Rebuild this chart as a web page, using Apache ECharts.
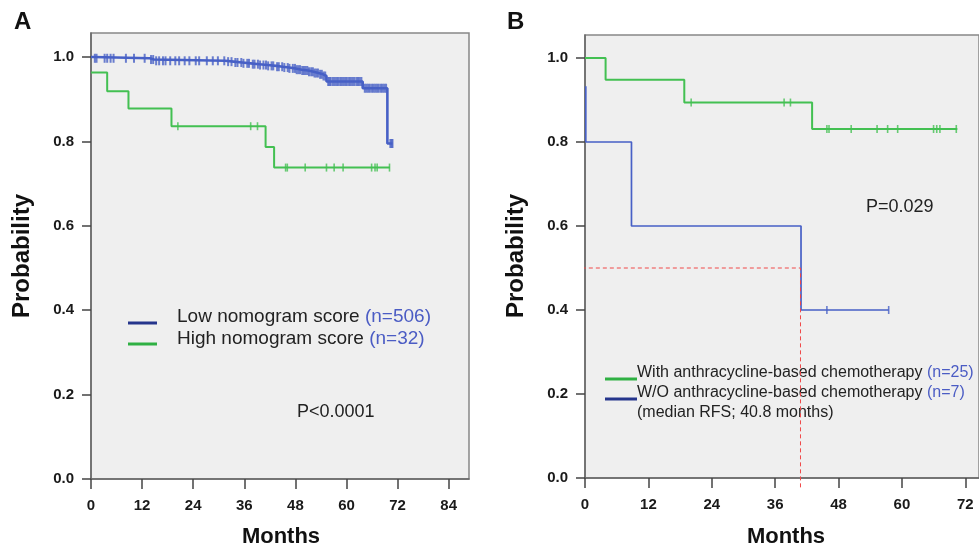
<!DOCTYPE html>
<html>
<head>
<meta charset="utf-8">
<script src="https://cdn.jsdelivr.net/npm/echarts@6.0.0/dist/echarts.min.js"></script>
<style>
  html, body { margin: 0; padding: 0; background: #fff; }
  #chart { width: 979px; height: 551px; }
</style>
</head>
<body>
<div id="chart"></div>
<script>
// ---- data ----
var monthTicksA = [0, 12, 24, 36, 48, 60, 72, 84];
var monthTicksB = [0, 12, 24, 36, 48, 60, 72];
var probTicks = [0, 0.2, 0.4, 0.6, 0.8, 1.0];

// Panel A, low nomogram score: step times / survival
var lowTimes = [0, 0.6, 13.8, 14.8, 31.5, 33.5, 35.5, 37.5, 39.5, 41.5, 43.5, 45, 46.5, 48, 49.5, 51, 52.3, 53.4, 54.5, 55.3, 63.8, 69.6, 70.8];
var lowSurv  = [1.0, 0.997, 0.994, 0.991, 0.989, 0.987, 0.985, 0.983, 0.981, 0.979, 0.977, 0.975, 0.973, 0.970, 0.968, 0.965, 0.962, 0.959, 0.955, 0.942, 0.926, 0.795, 0.795];
var lowCensor = [0.9, 1.3, 3.2, 3.8, 4.6, 5.3, 8.2, 10.1, 12.6, 14.1, 14.6, 15.3, 16.0, 16.9, 17.5, 18.6, 19.8, 20.7, 22.0, 23.1, 24.6, 25.4, 27.2, 28.6, 29.8,
  31.3, 32.2, 33.0, 33.9, 34.4, 35.3, 35.8, 36.7, 37.1, 38.0, 38.4, 39.2, 39.7, 40.5, 41.1, 41.6, 42.4, 42.8, 43.7, 44.1, 44.9, 45.4, 46.2, 46.6,
  47.4, 47.9, 48.3, 48.7, 49.1, 49.6, 50.0, 50.4, 50.8, 51.2, 51.7, 52.1, 52.5, 52.9, 53.3, 53.8, 54.2, 54.6, 55.0, 55.7, 56.0, 56.3, 56.8, 57.2,
  57.6, 58.0, 58.5, 58.9, 59.3, 59.7, 60.1, 60.6, 61.0, 61.4, 61.8, 62.3, 62.7, 63.1, 63.5, 64.3, 64.7, 65.1, 65.5, 66.0, 66.4, 66.8, 67.2, 67.6,
  68.1, 68.5, 68.9, 69.3, 70.3, 70.6, 70.8];

// Panel A, high nomogram score
var highTimes = [0, 3.8, 8.8, 18.9, 41.0, 43.0, 70.2];
var highSurv  = [0.963, 0.919, 0.878, 0.836, 0.787, 0.738, 0.738];
var highCensor = [20.4, 37.5, 39.1, 45.7, 46.1, 50.3, 55.3, 57.1, 59.2, 65.9, 66.7, 67.2, 70.1];

// Panel B, with anthracycline-based chemotherapy
var withTimes = [0, 3.9, 18.8, 43.0, 70.5];
var withSurv  = [1.0, 0.948, 0.894, 0.831, 0.831];
var withCensor = [20.1, 37.7, 38.9, 45.8, 46.2, 50.4, 55.3, 57.3, 59.2, 66.0, 66.6, 67.2, 70.3];

// Panel B, without anthracycline-based chemotherapy
var woTimes = [0.15, 0.15, 8.8, 40.9, 57.5];
var woSurv  = [0.933, 0.8, 0.6, 0.4, 0.4];
var woCensor = [45.8, 57.5];

var medianRFS = 40.8;

// ---- helpers ----
function pairs(ts, ss) {
    var out = [];
    for (var i = 0; i < ts.length; i++) out.push([ts[i], ss[i]]);
    return out;
}
function survAt(ts, ss, t) {
    var v = ss[0];
    for (var i = 0; i < ts.length; i++) {
        if (ts[i] <= t) v = ss[i];
    }
    return v;
}
function censorPts(cs, ts, ss) {
    return cs.map(function (t) { return [t, survAt(ts, ss, t)]; });
}

var curveBlue = '#4760c6';
var curveGreen = '#43c052';
var legendBlue = '#25358c';
var legendGreen = '#2fb043';
var nBlue = '#4b5cc4';
var font = 'Liberation Sans, Arial, sans-serif';

function xAxisCfg(grid, max, ticks) {
    return {
        type: 'value', gridIndex: grid, min: 0, max: max,
        axisLine: { show: true, lineStyle: { color: '#666', width: 1.5 } },
        axisTick: { show: true, length: 10, customValues: ticks, lineStyle: { color: '#444', width: 1.5 } },
        axisLabel: { customValues: ticks, margin: 19, color: '#1a1a1a', fontSize: 15, fontWeight: 'bold', fontFamily: font },
        splitLine: { show: false }
    };
}
function yAxisCfg(grid, max) {
    return {
        type: 'value', gridIndex: grid, min: 0, max: max,
        axisLine: { show: true, lineStyle: { color: '#666', width: 1.5 } },
        axisTick: { show: true, length: 9, customValues: probTicks, lineStyle: { color: '#444', width: 1.5 } },
        axisLabel: {
            customValues: probTicks, margin: 17, color: '#1a1a1a', fontSize: 15, fontWeight: 'bold', fontFamily: font,
            formatter: function (v) { return v.toFixed(1); }
        },
        splitLine: { show: false }
    };
}
function curve(name, xi, data, color, w) {
    return {
        name: name, type: 'line', xAxisIndex: xi, yAxisIndex: xi, step: 'end',
        data: data, symbol: 'none', lineStyle: { color: color, width: w }, z: 3
    };
}
function marks(xi, data, color, size) {
    return {
        type: 'scatter', xAxisIndex: xi, yAxisIndex: xi, data: data,
        symbol: 'rect', symbolSize: size, itemStyle: { color: color }, z: 4, silent: true
    };
}

var chart = echarts.init(document.getElementById('chart'), null, { renderer: 'canvas' });
chart.setOption({
    backgroundColor: '#fff',
    animation: false,
    grid: [
        { left: 91, top: 33, width: 378, height: 446, show: true, backgroundColor: '#efefef', borderColor: '#888', borderWidth: 1.5 },
        { left: 585, top: 35, width: 396, height: 443, show: true, backgroundColor: '#efefef', borderColor: '#888', borderWidth: 1.5 }
    ],
    xAxis: [xAxisCfg(0, 88.77, monthTicksA), xAxisCfg(1, 74.6, monthTicksB)],
    yAxis: [yAxisCfg(0, 1.0569), yAxisCfg(1, 1.0548)],
    series: [
        curve('Low nomogram score', 0, pairs(lowTimes, lowSurv), curveBlue, 2.6),
        marks(0, censorPts(lowCensor, lowTimes, lowSurv), curveBlue, [2, 9]),
        curve('High nomogram score', 0, pairs(highTimes, highSurv), curveGreen, 2),
        marks(0, censorPts(highCensor, highTimes, highSurv), curveGreen, [1.6, 8]),
        curve('With anthracycline-based chemotherapy', 1, pairs(withTimes, withSurv), curveGreen, 2),
        marks(1, censorPts(withCensor, withTimes, withSurv), curveGreen, [1.6, 8]),
        curve('W/O anthracycline-based chemotherapy', 1, pairs(woTimes, woSurv), curveBlue, 1.7),
        marks(1, censorPts(woCensor, woTimes, woSurv), curveBlue, [1.6, 8]),
        {
            type: 'line', xAxisIndex: 1, yAxisIndex: 1, clip: false, symbol: 'none', z: 5,
            data: [[-0.6, 0.5], [medianRFS, 0.5], [medianRFS, -0.028]],
            lineStyle: { color: '#f04848', width: 1, type: [4, 3] }
        }
    ],
    graphic: [
        { type: 'text', left: 14, top: 10, style: { text: 'A', font: 'bold 24px ' + font, fill: '#111' } },
        { type: 'text', left: 507, top: 10, style: { text: 'B', font: 'bold 24px ' + font, fill: '#111' } },
        { type: 'text', x: 22, y: 256, rotation: Math.PI / 2, style: { text: 'Probability', font: 'bold 24px ' + font, fill: '#111', align: 'center', verticalAlign: 'middle' } },
        { type: 'text', x: 516, y: 256, rotation: Math.PI / 2, style: { text: 'Probability', font: 'bold 24px ' + font, fill: '#111', align: 'center', verticalAlign: 'middle' } },
        { type: 'text', x: 281, y: 537, style: { text: 'Months', font: 'bold 22px ' + font, fill: '#111', align: 'center', verticalAlign: 'middle' } },
        { type: 'text', x: 786, y: 537, style: { text: 'Months', font: 'bold 22px ' + font, fill: '#111', align: 'center', verticalAlign: 'middle' } },
        // legend A
        { type: 'line', shape: { x1: 128, y1: 323, x2: 157, y2: 323 }, style: { stroke: legendBlue, lineWidth: 3 } },
        { type: 'line', shape: { x1: 128, y1: 344, x2: 157, y2: 344 }, style: { stroke: legendGreen, lineWidth: 3 } },
        {
            type: 'text', x: 177, y: 317, style: {
                text: 'Low nomogram score {n|(n=506)}', font: '19px ' + font, fill: '#222', verticalAlign: 'middle',
                rich: { n: { fill: nBlue, font: '19px ' + font } }
            }
        },
        {
            type: 'text', x: 177, y: 339, style: {
                text: 'High nomogram score {n|(n=32)}', font: '19px ' + font, fill: '#222', verticalAlign: 'middle',
                rich: { n: { fill: nBlue, font: '19px ' + font } }
            }
        },
        { type: 'text', x: 297, y: 412, style: { text: 'P<0.0001', font: '18px ' + font, fill: '#222', verticalAlign: 'middle' } },
        // legend B
        { type: 'line', shape: { x1: 605, y1: 379, x2: 637, y2: 379 }, style: { stroke: legendGreen, lineWidth: 3 } },
        { type: 'line', shape: { x1: 605, y1: 399, x2: 637, y2: 399 }, style: { stroke: legendBlue, lineWidth: 3 } },
        {
            type: 'text', x: 637, y: 373, style: {
                text: 'With anthracycline-based chemotherapy {n|(n=25)}', font: '16px ' + font, fill: '#222', verticalAlign: 'middle',
                rich: { n: { fill: nBlue, font: '16px ' + font } }
            }
        },
        {
            type: 'text', x: 637, y: 393, style: {
                text: 'W/O anthracycline-based chemotherapy {n|(n=7)}', font: '16px ' + font, fill: '#222', verticalAlign: 'middle',
                rich: { n: { fill: nBlue, font: '16px ' + font } }
            }
        },
        { type: 'text', x: 637, y: 413, style: { text: '(median RFS; 40.8 months)', font: '16px ' + font, fill: '#222', verticalAlign: 'middle' } },
        { type: 'text', x: 866, y: 207, style: { text: 'P=0.029', font: '18px ' + font, fill: '#222', verticalAlign: 'middle' } }
    ]
});
</script>
</body>
</html>
